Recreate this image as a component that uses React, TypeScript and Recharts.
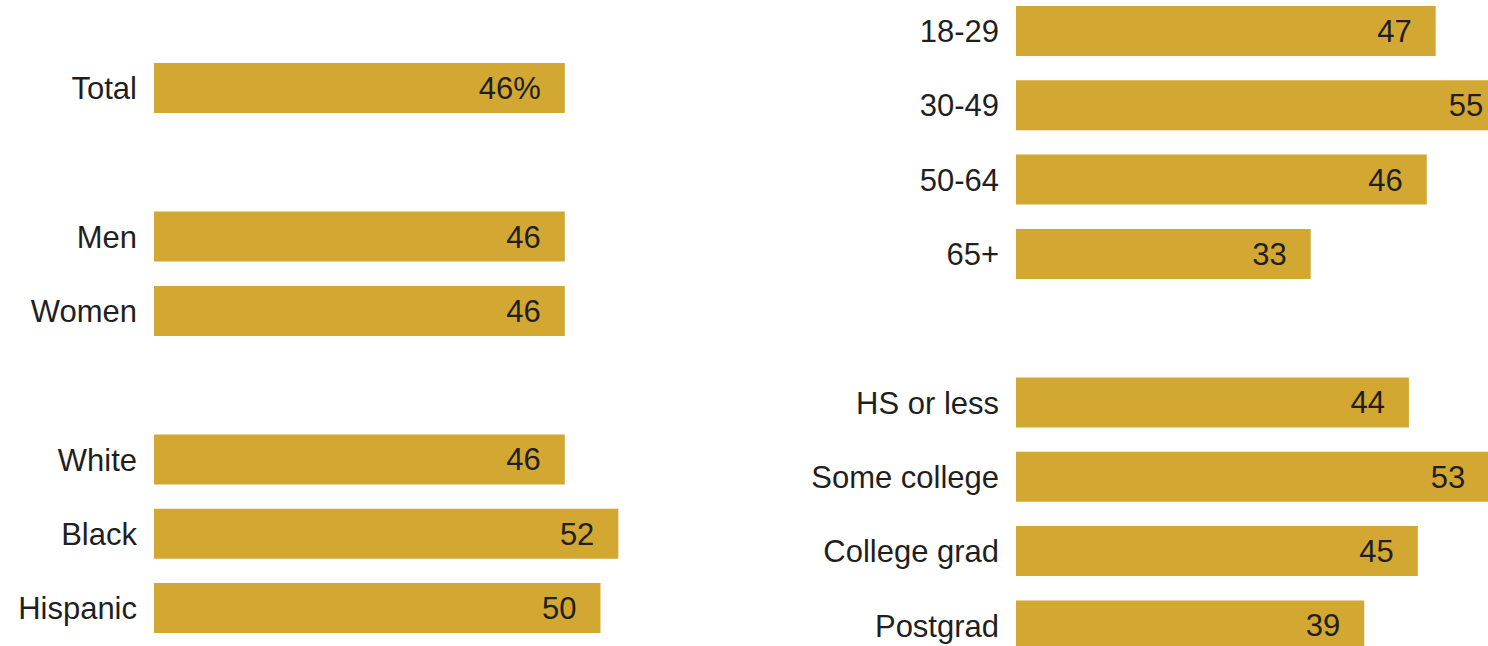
import { BarChart, Bar, XAxis, YAxis, LabelList } from 'recharts';

const leftCategories = ['Total', '', 'Men', 'Women', ' ', 'White', 'Black', 'Hispanic'];
const leftValues = [46, null, 46, 46, null, 46, 52, 50];

const rightCategories = [
  '18-29',
  '30-49',
  '50-64',
  '65+',
  '',
  'HS or less',
  'Some college',
  'College grad',
  'Postgrad',
];
const rightValues = [47, 55, 46, 33, null, 44, 53, 45, 39];

const BAR_COLOR = '#D2A732';
const TEXT_COLOR = '#1f1f1f';
const FONT = "'Liberation Sans', Arial, sans-serif";
const ROW = 74.3;
const PX_PER_UNIT = 8.93;
const MAX = 60;

function toRows(cats: string[], vals: (number | null)[], pctFirst: boolean) {
  return cats.map((name, i) => ({
    name,
    value: vals[i],
    label:
      vals[i] == null ? null : pctFirst && i === 0 ? `${vals[i]}%` : `${vals[i]}`,
  }));
}

interface PanelProps {
  rows: { name: string; value: number | null; label: string | null }[];
  axisWidth: number;
  left: number;
  top: number;
}

function Panel({ rows, axisWidth, left, top }: PanelProps) {
  const plotWidth = MAX * PX_PER_UNIT;
  return (
    <div style={{ position: 'absolute', left, top }}>
      <BarChart
        width={axisWidth + plotWidth}
        height={rows.length * ROW}
        data={rows}
        layout="vertical"
        margin={{ top: 0, right: 0, bottom: 0, left: 0 }}
      >
        <XAxis type="number" domain={[0, MAX]} hide />
        <YAxis
          type="category"
          dataKey="name"
          width={axisWidth}
          interval={0}
          axisLine={false}
          tickLine={false}
          tickSize={0}
          tickMargin={17}
          tick={{ fontSize: 31, fill: TEXT_COLOR, fontFamily: FONT }}
        />
        <Bar dataKey="value" fill={BAR_COLOR} barSize={50} isAnimationActive={false}>
          <LabelList
            dataKey="label"
            position="insideRight"
            offset={24}
            style={{ fontSize: 31, fill: TEXT_COLOR, fontFamily: FONT }}
          />
        </Bar>
      </BarChart>
    </div>
  );
}

export default function App() {
  return (
    <div
      style={{
        position: 'absolute',
        left: 0,
        top: 0,
        width: 1488,
        height: 646,
        overflow: 'hidden',
        background: '#fff',
      }}
    >
      <Panel rows={toRows(leftCategories, leftValues, true)} axisWidth={154} left={0} top={50.85} />
      <Panel rows={toRows(rightCategories, rightValues, false)} axisWidth={240} left={776} top={-6.15} />
    </div>
  );
}
